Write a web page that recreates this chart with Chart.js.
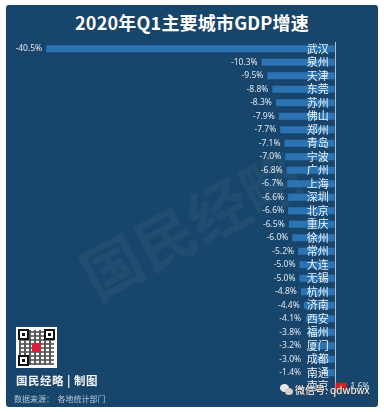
<!DOCTYPE html>
<html>
<head>
<meta charset="utf-8">
<script src="https://cdn.jsdelivr.net/npm/chart.js@4/dist/chart.umd.min.js"></script>
<style>

    html, body {
        margin: 0;
        padding: 0;
        background: #ffffff;
    }

    #wrap {
        position: relative;
        width: 384px;
        height: 412px;
        overflow: hidden;
        font-family: "Noto Sans CJK SC", "Noto Sans", sans-serif;
    }

    #panel {
        position: absolute;
        left: 6px;
        top: 5px;
        width: 372px;
        height: 402px;
        background: #18456b;
        border-radius: 3px;
    }

    #title {
        position: absolute;
        left: 0;
        top: 10px;
        width: 384px;
        text-align: center;
        color: #ffffff;
        font-weight: bold;
        font-size: 18px;
        line-height: 24px;
        letter-spacing: 0.2px;
    }

    #stamp {
        position: absolute;
        left: 70px;
        top: 178px;
        font-size: 60px;
        font-weight: bold;
        color: rgba(255, 255, 255, 0.045);
        transform: rotate(-28deg);
        white-space: nowrap;
        font-family: "Noto Sans CJK SC", serif;
    }

    #chartBox {
        position: absolute;
        left: 0;
        top: 0;
        width: 384px;
        height: 412px;
    }

    #qr {
        position: absolute;
        left: 16px;
        top: 327px;
        width: 41px;
        height: 41px;
        background: #ffffff;
    }

    #qr .noise {
        position: absolute;
        left: 3px;
        top: 3px;
        width: 35px;
        height: 35px;
        background:
            repeating-linear-gradient(90deg, #222 0 2px, transparent 2px 5px),
            repeating-linear-gradient(0deg, #444 0 2px, transparent 2px 4px);
        opacity: 0.75;
    }

    #qr .finder {
        position: absolute;
        width: 7px;
        height: 7px;
        border: 2px solid #111;
        background: #fff;
    }

    #qr .finder::after {
        content: "";
        position: absolute;
        left: 2px;
        top: 2px;
        width: 3px;
        height: 3px;
        background: #111;
    }

    #qr .logo {
        position: absolute;
        left: 16px;
        top: 16px;
        width: 9px;
        height: 9px;
        background: #d8203a;
    }

    #brand {
        position: absolute;
        left: 16px;
        top: 372px;
        color: #f2f4f7;
        font-size: 11.5px;
        font-weight: bold;
        font-family: "Noto Sans CJK SC", serif;
        letter-spacing: 0.5px;
    }

    #source {
        position: absolute;
        left: 14px;
        top: 393px;
        color: #b9c6d3;
        font-size: 8px;
    }

    #wechat {
        position: absolute;
        left: 280px;
        top: 382px;
        color: #ffffff;
        font-size: 10px;
        text-shadow: 0 0 2px #555, 0 0 1px #333;
        white-space: nowrap;
    }

    #wechat .icon {
        display: inline-block;
        position: relative;
        width: 13px;
        height: 11px;
        margin-right: 2px;
        vertical-align: -1px;
    }

    #wechat .icon i {
        position: absolute;
        background: #e9e9e9;
        border-radius: 50%;
    }

</style>
</head>
<body>

<div id="wrap">

    <div id="panel"></div>

    <div id="stamp">国民经略</div>

    <div id="title">2020年Q1主要城市GDP增速</div>

    <div id="chartBox">
        <canvas id="gdpChart"></canvas>
    </div>

    <div id="qr">
        <div class="noise"></div>
        <div class="finder" style="left:2px;top:2px"></div>
        <div class="finder" style="left:28px;top:2px"></div>
        <div class="finder" style="left:2px;top:28px"></div>
        <div class="logo"></div>
    </div>

    <div id="brand">国民经略 | 制图</div>

    <div id="source">数据来源：&nbsp; 各地统计部门</div>

    <div id="wechat">
        <span class="icon">
            <i style="left:0;top:0;width:9px;height:8px"></i>
            <i style="left:5px;top:4px;width:8px;height:7px;background:#cfcfcf"></i>
        </span>微信号: qdwbwx
    </div>

</div>

<script>

/* =========================
DATA
========================= */

const cities = [
    "武汉", "泉州", "天津", "东莞", "苏州", "佛山", "郑州",
    "青岛", "宁波", "广州", "上海", "深圳", "北京", "重庆",
    "徐州", "常州", "大连", "无锡", "杭州", "济南", "西安",
    "福州", "厦门", "成都", "南通", "南京"
];

const growth = [
    -40.5, -10.3, -9.5, -8.8, -8.3, -7.9, -7.7,
    -7.1, -7.0, -6.8, -6.7, -6.6, -6.6, -6.5,
    -6.0, -5.2, -5.0, -5.0, -4.8, -4.4, -4.1,
    -3.8, -3.2, -3.0, -1.4, 1.6
];

const negColor = "#2b73b3";
const posColor = "#e3191c";

/* =========================
VALUE LABELS
========================= */

const valueLabels = {

    id: "valueLabels",

    afterDatasetsDraw(chart) {

        const ctx = chart.ctx;
        const meta = chart.getDatasetMeta(0);

        // keep labels clear of the city names next to the axis
        const limit = chart.scales.x.getPixelForValue(0) - 34;

        ctx.save();
        ctx.font = "8.5px 'Noto Sans', sans-serif";
        ctx.fillStyle = "#dfe7ef";
        ctx.textBaseline = "middle";

        meta.data.forEach((bar, i) => {

            const v = growth[i];
            const txt = v.toFixed(1) + "%";

            if (v < 0) {
                ctx.textAlign = "right";
                ctx.fillText(txt, Math.min(bar.x - 4, limit), bar.y);
            } else {
                ctx.textAlign = "left";
                ctx.fillText(txt, bar.x + 4, bar.y);
            }

        });

        ctx.restore();

    }

};

/* =========================
CHART
========================= */

const ctx = document.getElementById("gdpChart");

new Chart(ctx, {

    type: "bar",

    data: {

        labels: cities,

        datasets: [

            {
                data: growth,
                backgroundColor: growth.map(v => v < 0 ? negColor : posColor),
                barPercentage: 0.52,
                categoryPercentage: 1
            }

        ]

    },

    options: {

        indexAxis: "y",
        responsive: true,
        maintainAspectRatio: false,
        animation: false,

        layout: {
            padding: { top: 42, bottom: 19, left: 14, right: 6 }
        },

        plugins: {
            legend: { display: false },
            tooltip: { enabled: false }
        },

        scales: {

            x: {
                min: -45,
                max: 6,
                border: { display: false },
                ticks: { display: false },
                grid: {
                    drawTicks: false,
                    lineWidth: 1,
                    color: c => c.tick && c.tick.value === 0 ? "#b4c0cc" : "rgba(0,0,0,0)"
                },
                afterBuildTicks: axis => {
                    axis.ticks = [{ value: 0 }];
                }
            },

            y: {
                position: { x: -0.9 },
                border: { display: false },
                grid: { display: false, drawTicks: false },
                ticks: {
                    z: 1,
                    autoSkip: false,
                    color: "#eef3f8",
                    font: { size: 11, family: "'Noto Sans CJK SC', sans-serif" },
                    padding: 0
                }
            }

        }

    },

    plugins: [valueLabels]

});

</script>

</body>
</html>
